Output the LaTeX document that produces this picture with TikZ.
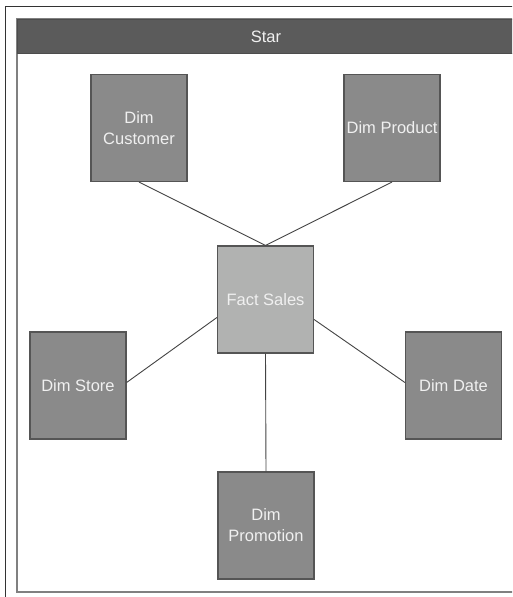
\documentclass[tikz,border=0pt]{standalone}
\usepackage{fontspec}
\setmainfont{Liberation Sans}
\usetikzlibrary{positioning}
\definecolor{headgray}{HTML}{5B5B5B}
\definecolor{dimgray}{HTML}{8A8A8A}
\definecolor{factgray}{HTML}{B1B2B1}
\definecolor{edgegray}{HTML}{555555}
\definecolor{textgray}{HTML}{F0F0F0}
\begin{document}
\begin{tikzpicture}[x=1pt,y=-1pt]
\tikzstyle{table}=[draw=edgegray,line width=1.2pt,minimum width=96pt,minimum height=107pt,
  inner sep=0pt,align=center,text=textgray,font=\fontsize{16.5}{21}\selectfont]
\tikzstyle{dim}=[table,fill=dimgray]
\tikzstyle{fact}=[table,fill=factgray]
\tikzstyle{link}=[draw=edgegray!80!black,line width=0.9pt]
\useasboundingbox (0,0) rectangle (512,597);
\clip (0,0) rectangle (512,597);
\fill[white] (0,0) rectangle (512,597);
% frames
\draw[draw=black!80,line width=1pt] (5,6) rectangle (530,610);
\draw[draw=black!50,line width=1.3pt] (17,19) rectangle (514,592);
\node[draw=black!70,fill=headgray,line width=1pt,minimum width=497pt,minimum height=34pt,
  anchor=north west,text=textgray,font=\fontsize{16.5}{19}\selectfont] (head) at (17,19) {Star};
% tables
\node[dim] (cust) at (139,128) {Dim\\Customer};
\node[dim] (prod) at (392,128) {Dim Product};
\node[fact] (sales) at (265.5,299.5) {Fact Sales};
\node[dim] (store) at (78,385.5) {Dim Store};
\node[dim] (date) at (453.5,385.5) {Dim Date};
\node[dim] (promo) at (266,525.5) {Dim\\Promotion};
% links
\draw[link] (cust.south) -- (sales.north);
\draw[link] (prod.south) -- (sales.north);
\draw[link] ([yshift=3pt]store.east) -- ([yshift=-18pt]sales.west);
\draw[link] ([yshift=-20pt]sales.east) -- ([yshift=3pt]date.west);
\draw[link] (sales.south) -- (promo.north);
\end{tikzpicture}
\end{document}
